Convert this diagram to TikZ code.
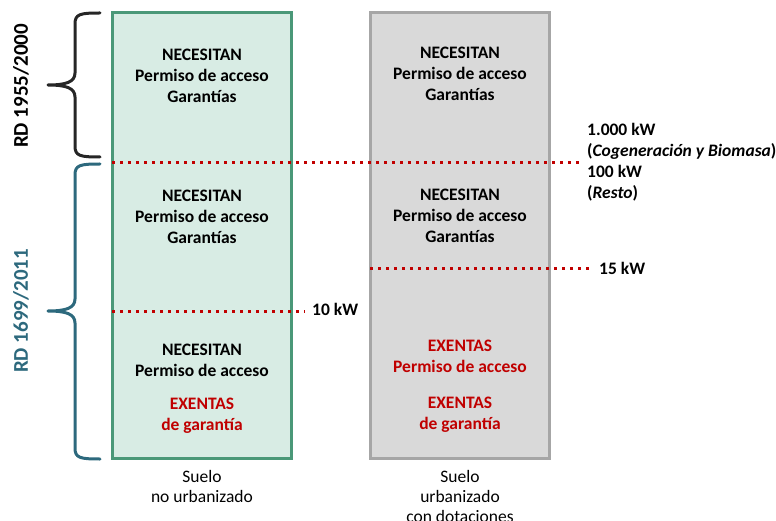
\documentclass[tikz,border=0pt]{standalone}
\usepackage{fontspec}
\setmainfont{Carlito}
\definecolor{boxgreen}{RGB}{74,152,120}
\definecolor{fillgreen}{RGB}{216,236,228}
\definecolor{boxgray}{RGB}{166,166,166}
\definecolor{fillgray}{RGB}{217,217,217}
\definecolor{dred}{RGB}{192,0,0}
\definecolor{teal2}{RGB}{45,105,125}
\definecolor{dark}{RGB}{38,38,38}
\begin{document}
\begin{tikzpicture}[x=1pt,y=-1pt,
  txt/.style={align=center,font=\fontsize{17.5}{21}\selectfont\bfseries,inner sep=0pt,text=black},
  redtxt/.style={txt,text=dred},
  lbl/.style={align=center,font=\fontsize{17.5}{20}\selectfont,inner sep=0pt},
  limit/.style={draw=dred,line width=3pt,dash pattern=on 3pt off 5pt},
  panel/.style={draw,line width=2.6pt,minimum width=179pt,minimum height=446pt,inner sep=0pt},
  bracepath/.style={line width=3pt,line cap=round,line join=round},
  rdlabel/.style={rotate=90,font=\fontsize{21}{22}\selectfont\bfseries,inner sep=0pt}]
\useasboundingbox (0,0) rectangle (776,521);
% panels
\node[panel,draw=boxgreen,fill=fillgreen] (left) at (202,235.5) {};
\node[panel,draw=boxgray,fill=fillgray] (right) at (460,235.5) {};
% texts left
\node[txt] (l1) at (202,75.5) {NECESITAN\\Permiso de acceso\\Garantías};
\node[txt] (l2) at (202,217) {NECESITAN\\Permiso de acceso\\Garantías};
\node[txt] (l3) at (202,360.5) {NECESITAN\\Permiso de acceso};
\node[redtxt] (l4) at (202,415.5) {EXENTAS\\de garantía};
% texts right
\node[txt] (r1) at (460,74) {NECESITAN\\Permiso de acceso\\Garantías};
\node[txt] (r2) at (460,216) {NECESITAN\\Permiso de acceso\\Garantías};
\node[redtxt] (r3) at (460,356.5) {EXENTAS\\Permiso de acceso};
\node[redtxt] (r4) at (460,415) {EXENTAS\\de garantía};
% bottom labels
\node[lbl] (s1) at (202,486) {Suelo\\no urbanizado};
\node[lbl] (s2) at (460,496) {Suelo\\urbanizado\\con dotaciones};
% limit labels
\node[txt,anchor=west,align=left] (k1) at (587,162) {1.000 kW\\(\textit{Cogeneración y Biomasa})\\100 kW\\(\textit{Resto})};
\node[txt,anchor=west] (k2) at (312,309) {10 kW};
\node[txt,anchor=west] (k3) at (599,268) {15 kW};
% dotted limits
\coordinate (a1) at (112,163);
\coordinate (b1) at (580,163);
\coordinate (a2) at (112,311);
\coordinate (b2) at (305,311);
\coordinate (a3) at (370,269);
\coordinate (b3) at (592,269);
\draw[limit] (a1) -- (b1);
\draw[limit] (a2) -- (b2);
\draw[limit] (a3) -- (b3);
% braces
\draw[bracepath,draw=dark] (100,13) .. controls (80,13) and (75,14) .. (75,24) -- (75,73)
  .. controls (75,82) and (66,85) .. (48,85) .. controls (66,85) and (75,88) .. (75,97)
  -- (75,146) .. controls (75,156) and (80,157) .. (100,157);
\draw[bracepath,draw=teal2] (100,164) .. controls (80,164) and (75,165) .. (75,175) -- (75,299)
  .. controls (75,308) and (66,311) .. (48,311) .. controls (66,311) and (75,314) .. (75,323)
  -- (75,448) .. controls (75,458) and (80,459) .. (100,459);
\node[rdlabel,text=black] (rd1) at (21,86) {RD 1955/2000};
\node[rdlabel,text=teal2] (rd2) at (21,311) {RD 1699/2011};
\end{tikzpicture}
\end{document}
